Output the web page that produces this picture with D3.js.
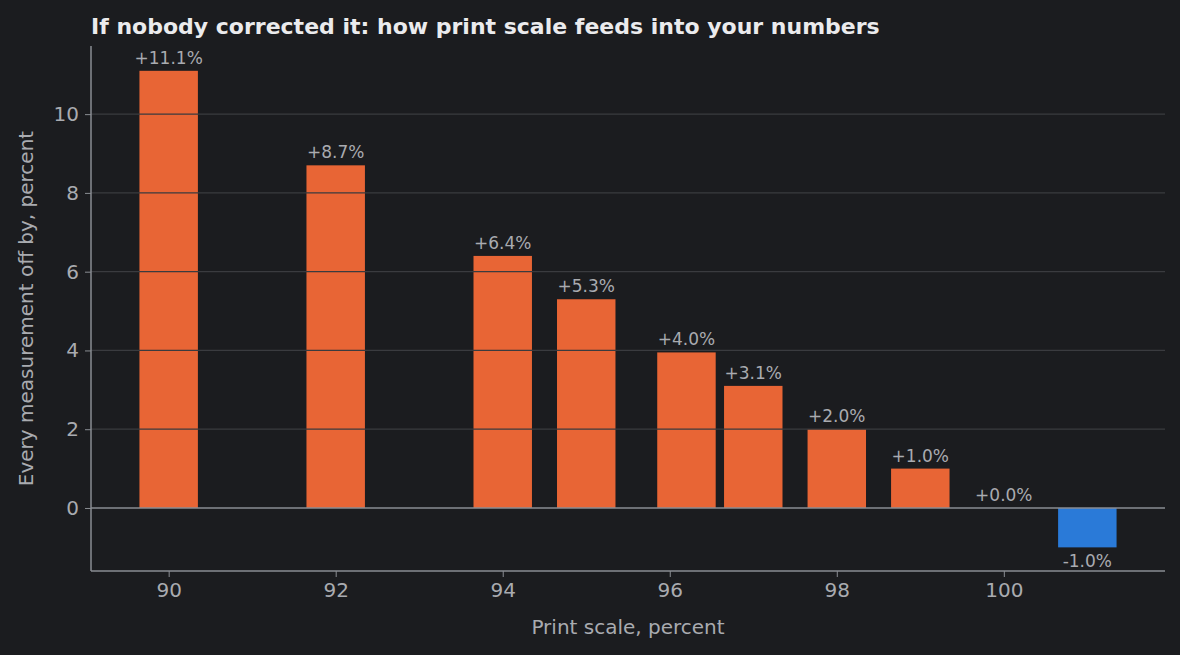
<!DOCTYPE html>
<html>
<head>
<meta charset="utf-8">
<script src="https://cdn.jsdelivr.net/npm/d3@7"></script>
<style>
  body { margin: 0; background: #1b1c1f; }
  text { font-family: "DejaVu Sans", sans-serif; }
</style>
</head>
<body>
<div id="chart"></div>
<script>
// print scale (percent) and how far every measurement is off (percent)
const scales = [90, 92, 94, 95, 96.2, 97, 98, 99, 100, 101]
const offsets = [11.1, 8.7, 6.4, 5.3, 3.95, 3.1, 2.0, 1.0, 0.0, -1.0]
const labels = ["+11.1%", "+8.7%", "+6.4%", "+5.3%", "+4.0%", "+3.1%", "+2.0%", "+1.0%", "+0.0%", "-1.0%"]
const xTicks = [90, 92, 94, 96, 98, 100]
const yTicks = [0, 2, 4, 6, 8, 10]

const W = 1180, H = 655
const M = {TOP: 46, RIGHT: 15, BOTTOM: 84, LEFT: 91}

const svg = d3.select("#chart").append("svg")
  .attr("width", W).attr("height", H)
  .style("background", "#1b1c1f")

const x = d3.scaleLinear().domain([89.07, 101.93]).range([M.LEFT, W - M.RIGHT])
const y = d3.scaleLinear().domain([-1.6, 11.73]).range([H - M.BOTTOM, M.TOP])
const BAR_W = x(90.7) - x(90)

// bars
svg.selectAll("rect.bar").data(scales).enter().append("rect")
  .attr("x", d => x(d) - BAR_W / 2)
  .attr("y", (d, i) => y(Math.max(0, offsets[i])))
  .attr("width", BAR_W)
  .attr("height", (d, i) => Math.abs(y(offsets[i]) - y(0)))
  .attr("fill", (d, i) => offsets[i] < 0 ? "#2a7ad8" : "#e86535")

// gridlines over the bars
svg.selectAll("line.grid").data(yTicks.filter(t => t !== 0)).enter().append("line")
  .attr("x1", M.LEFT).attr("x2", W - M.RIGHT)
  .attr("y1", d => y(d)).attr("y2", d => y(d))
  .attr("stroke", "#3a3b3f").attr("stroke-width", 1.2)

svg.append("line")
  .attr("x1", M.LEFT).attr("x2", W - M.RIGHT)
  .attr("y1", y(0)).attr("y2", y(0))
  .attr("stroke", "#8a8d93").attr("stroke-width", 1.5)

// value labels
svg.selectAll("text.val").data(scales).enter().append("text")
  .attr("x", d => x(d))
  .attr("y", (d, i) => offsets[i] < 0 ? y(offsets[i]) + 20 : y(offsets[i]) - 7)
  .attr("text-anchor", "middle")
  .attr("font-size", 17).attr("fill", "#a9abb0")
  .text((d, i) => labels[i])

// axes
const xAxis = svg.append("g")
  .attr("transform", `translate(0,${H - M.BOTTOM})`)
  .call(d3.axisBottom(x).tickValues(xTicks).tickSize(6).tickPadding(6))
const yAxis = svg.append("g")
  .attr("transform", `translate(${M.LEFT},0)`)
  .call(d3.axisLeft(y).tickValues(yTicks).tickSize(6).tickPadding(6))

for (const ax of [xAxis, yAxis]) {
  ax.select(".domain").attr("stroke", "#8a8d93").attr("stroke-width", 1.5)
  ax.selectAll(".tick line").attr("stroke", "#8a8d93")
  ax.selectAll(".tick text").attr("fill", "#a9abb0").attr("font-size", 20)
    .attr("font-family", "DejaVu Sans, sans-serif")
}
xAxis.select(".domain").attr("d", `M${M.LEFT},0H${W - M.RIGHT}`)
yAxis.select(".domain").attr("d", `M0,${M.TOP}V${H - M.BOTTOM}`)

// titles
svg.append("text")
  .attr("x", (M.LEFT + W - M.RIGHT) / 2).attr("y", 634)
  .attr("text-anchor", "middle").attr("font-size", 20).attr("fill", "#a9abb0")
  .text("Print scale, percent")

svg.append("text")
  .attr("transform", `translate(33,${(M.TOP + H - M.BOTTOM) / 2}) rotate(-90)`)
  .attr("text-anchor", "middle").attr("font-size", 20).attr("fill", "#a9abb0")
  .text("Every measurement off by, percent")

svg.append("text")
  .attr("x", 91).attr("y", 34)
  .attr("font-size", 22).attr("font-weight", "bold").attr("fill", "#ebebed")
  .text("If nobody corrected it: how print scale feeds into your numbers")
</script>
</body>
</html>
